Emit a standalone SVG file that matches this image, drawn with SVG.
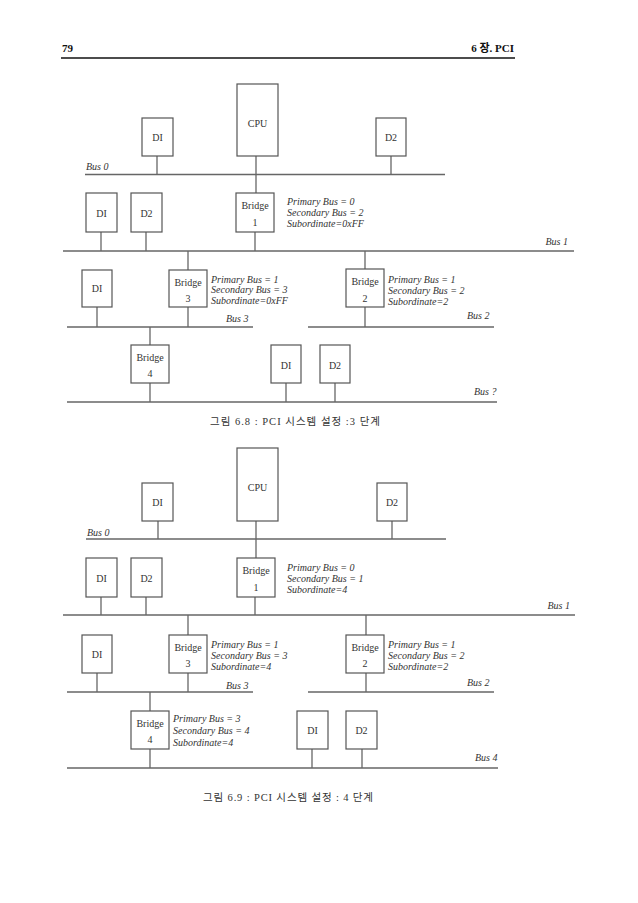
<svg xmlns="http://www.w3.org/2000/svg" width="638" height="903" viewBox="0 0 638 903">
<style>
.bx{fill:#fff;stroke:#555;stroke-width:1.2}
.ln{stroke:#666;stroke-width:1.3;fill:none}
.bus{stroke:#666;stroke-width:1.5;fill:none}
.t{font-family:"Liberation Serif","Times New Roman",serif;font-size:10px;fill:#333;text-anchor:middle}
.it{font-family:"Liberation Serif","Times New Roman",serif;font-size:10px;font-style:italic;fill:#333}
.hd{font-family:"Liberation Serif","Noto Sans CJK KR",serif;font-size:11px;font-weight:bold;fill:#111}
.cap{font-family:"Liberation Serif","Noto Sans CJK KR",serif;font-size:10.5px;fill:#333;text-anchor:middle}
</style>
<rect width="638" height="903" fill="#fff"/>
<g id="header">
<text class="hd" x="62" y="52">79</text>
<text class="hd" x="514" y="52" text-anchor="end">6 장. PCI</text>
<line x1="61" y1="58" x2="515" y2="58" stroke="#111" stroke-width="1.3"/>
</g>

<!-- ========== Figure 6.8 ========== -->
<g id="fig1-connectors">
<line class="bus" x1="85" y1="174.5" x2="445" y2="174.5"/>
<line class="bus" x1="63" y1="251" x2="574" y2="251"/>
<line class="bus" x1="67" y1="327" x2="253" y2="327"/>
<line class="bus" x1="308" y1="327" x2="494" y2="327"/>
<line class="bus" x1="67" y1="402" x2="497" y2="402"/>
<line class="ln" x1="157" y1="156" x2="157" y2="174.5"/>
<line class="ln" x1="256" y1="156" x2="256" y2="193"/>
<line class="ln" x1="391" y1="156" x2="391" y2="174.5"/>
<line class="ln" x1="101" y1="232" x2="101" y2="251"/>
<line class="ln" x1="146" y1="232" x2="146" y2="251"/>
<line class="ln" x1="255" y1="232" x2="255" y2="251"/>
<line class="ln" x1="188" y1="251" x2="188" y2="270"/>
<line class="ln" x1="365" y1="251" x2="365" y2="269"/>
<line class="ln" x1="97" y1="307" x2="97" y2="327"/>
<line class="ln" x1="188" y1="307" x2="188" y2="327"/>
<line class="ln" x1="365" y1="307" x2="365" y2="327"/>
<line class="ln" x1="150" y1="327" x2="150" y2="345"/>
<line class="ln" x1="150" y1="383" x2="150" y2="402"/>
<line class="ln" x1="286" y1="383" x2="286" y2="402"/>
<line class="ln" x1="335" y1="383" x2="335" y2="402"/>
<text class="it" x="86" y="170">Bus 0</text>
<text class="it" x="568" y="245" text-anchor="end">Bus 1</text>
<text class="it" x="226" y="322">Bus 3</text>
<text class="it" x="467" y="319">Bus 2</text>
<text class="it" x="474" y="395">Bus ?</text>
</g>
<g id="f1-d1"><rect class="bx" x="142" y="118" width="31" height="38"/><text class="t" x="157.5" y="141">DI</text></g>
<g id="f1-cpu"><rect class="bx" x="237" y="84" width="41" height="72"/><text class="t" x="257.5" y="127">CPU</text></g>
<g id="f1-d2"><rect class="bx" x="376" y="118" width="30" height="38"/><text class="t" x="391" y="141">D2</text></g>
<g id="f1-b1-d1"><rect class="bx" x="86" y="193" width="31" height="39"/><text class="t" x="101.5" y="217">DI</text></g>
<g id="f1-b1-d2"><rect class="bx" x="131" y="193" width="31" height="39"/><text class="t" x="146.5" y="217">D2</text></g>
<g id="f1-bridge1"><rect class="bx" x="236" y="193" width="38" height="39"/><text class="t" x="255" y="209">Bridge</text><text class="t" x="255" y="226">1</text>
<text class="it" x="287" y="205">Primary Bus = 0</text><text class="it" x="287" y="216">Secondary Bus = 2</text><text class="it" x="287" y="227">Subordinate=0xFF</text></g>
<g id="f1-b3-d1"><rect class="bx" x="82" y="270" width="30" height="37"/><text class="t" x="97" y="292">DI</text></g>
<g id="f1-bridge3"><rect class="bx" x="169" y="270" width="38" height="37"/><text class="t" x="188" y="286">Bridge</text><text class="t" x="188" y="302">3</text>
<text class="it" x="211" y="282.5">Primary Bus = 1</text><text class="it" x="211" y="293">Secondary Bus = 3</text><text class="it" x="211" y="303.5">Subordinate=0xFF</text></g>
<g id="f1-bridge2"><rect class="bx" x="346" y="269" width="38" height="38"/><text class="t" x="365" y="285">Bridge</text><text class="t" x="365" y="302">2</text>
<text class="it" x="388" y="282.5">Primary Bus = 1</text><text class="it" x="388" y="294">Secondary Bus = 2</text><text class="it" x="388" y="305">Subordinate=2</text></g>
<g id="f1-bridge4"><rect class="bx" x="131" y="345" width="38" height="38"/><text class="t" x="150" y="361">Bridge</text><text class="t" x="150" y="377">4</text></g>
<g id="f1-b4-d1"><rect class="bx" x="271" y="345" width="30" height="38"/><text class="t" x="286" y="369">DI</text></g>
<g id="f1-b4-d2"><rect class="bx" x="320" y="345" width="30" height="38"/><text class="t" x="335" y="369">D2</text></g>
<text class="cap" x="295" y="425" textLength="170" lengthAdjust="spacing">그림 6.8 : PCI 시스템 설정 :3 단계</text>

<!-- ========== Figure 6.9 ========== -->
<g id="fig2-connectors">
<line class="bus" x1="86" y1="539" x2="446" y2="539"/>
<line class="bus" x1="63" y1="615" x2="575" y2="615"/>
<line class="bus" x1="67" y1="692" x2="253" y2="692"/>
<line class="bus" x1="308" y1="692" x2="494" y2="692"/>
<line class="bus" x1="67" y1="768" x2="498" y2="768"/>
<line class="ln" x1="158" y1="521" x2="158" y2="539"/>
<line class="ln" x1="256" y1="521" x2="256" y2="558"/>
<line class="ln" x1="392" y1="521" x2="392" y2="539"/>
<line class="ln" x1="101" y1="597" x2="101" y2="615"/>
<line class="ln" x1="146" y1="597" x2="146" y2="615"/>
<line class="ln" x1="255" y1="597" x2="255" y2="615"/>
<line class="ln" x1="188" y1="615" x2="188" y2="635"/>
<line class="ln" x1="366" y1="615" x2="366" y2="635"/>
<line class="ln" x1="97" y1="673" x2="97" y2="692"/>
<line class="ln" x1="188" y1="673" x2="188" y2="692"/>
<line class="ln" x1="366" y1="673" x2="366" y2="692"/>
<line class="ln" x1="150" y1="692" x2="150" y2="711"/>
<line class="ln" x1="150" y1="749" x2="150" y2="768"/>
<line class="ln" x1="312" y1="749" x2="312" y2="768"/>
<line class="ln" x1="362" y1="749" x2="362" y2="768"/>
<text class="it" x="87" y="536">Bus 0</text>
<text class="it" x="570" y="609" text-anchor="end">Bus 1</text>
<text class="it" x="226" y="689">Bus 3</text>
<text class="it" x="467" y="686">Bus 2</text>
<text class="it" x="475" y="761">Bus 4</text>
</g>
<g id="f2-d1"><rect class="bx" x="142" y="483" width="31" height="38"/><text class="t" x="157.5" y="506">DI</text></g>
<g id="f2-cpu"><rect class="bx" x="237" y="448" width="41" height="73"/><text class="t" x="257.5" y="491">CPU</text></g>
<g id="f2-d2"><rect class="bx" x="377" y="483" width="30" height="38"/><text class="t" x="392" y="506">D2</text></g>
<g id="f2-b1-d1"><rect class="bx" x="86" y="558" width="31" height="39"/><text class="t" x="101.5" y="582">DI</text></g>
<g id="f2-b1-d2"><rect class="bx" x="131" y="558" width="31" height="39"/><text class="t" x="146.5" y="582">D2</text></g>
<g id="f2-bridge1"><rect class="bx" x="237" y="558" width="38" height="39"/><text class="t" x="256" y="574">Bridge</text><text class="t" x="256" y="591">1</text>
<text class="it" x="287" y="570.5">Primary Bus = 0</text><text class="it" x="287" y="581.5">Secondary Bus = 1</text><text class="it" x="287" y="593">Subordinate=4</text></g>
<g id="f2-b3-d1"><rect class="bx" x="82" y="635" width="30" height="38"/><text class="t" x="97" y="658">DI</text></g>
<g id="f2-bridge3"><rect class="bx" x="169" y="635" width="38" height="38"/><text class="t" x="188" y="651">Bridge</text><text class="t" x="188" y="667">3</text>
<text class="it" x="211" y="647.5">Primary Bus = 1</text><text class="it" x="211" y="658.5">Secondary Bus = 3</text><text class="it" x="211" y="670">Subordinate=4</text></g>
<g id="f2-bridge2"><rect class="bx" x="346" y="635" width="38" height="38"/><text class="t" x="365" y="651">Bridge</text><text class="t" x="365" y="667">2</text>
<text class="it" x="388" y="647.5">Primary Bus = 1</text><text class="it" x="388" y="659">Secondary Bus = 2</text><text class="it" x="388" y="670">Subordinate=2</text></g>
<g id="f2-bridge4"><rect class="bx" x="131" y="711" width="38" height="38"/><text class="t" x="150" y="727">Bridge</text><text class="t" x="150" y="743">4</text>
<text class="it" x="173" y="722">Primary Bus = 3</text><text class="it" x="173" y="734">Secondary Bus = 4</text><text class="it" x="173" y="746">Subordinate=4</text></g>
<g id="f2-b4-d1"><rect class="bx" x="297" y="711" width="31" height="38"/><text class="t" x="312.5" y="734">DI</text></g>
<g id="f2-b4-d2"><rect class="bx" x="346" y="711" width="31" height="38"/><text class="t" x="361.5" y="734">D2</text></g>
<text class="cap" x="288" y="801" textLength="170" lengthAdjust="spacing">그림 6.9 : PCI 시스템 설정 : 4 단계</text>
</svg>
